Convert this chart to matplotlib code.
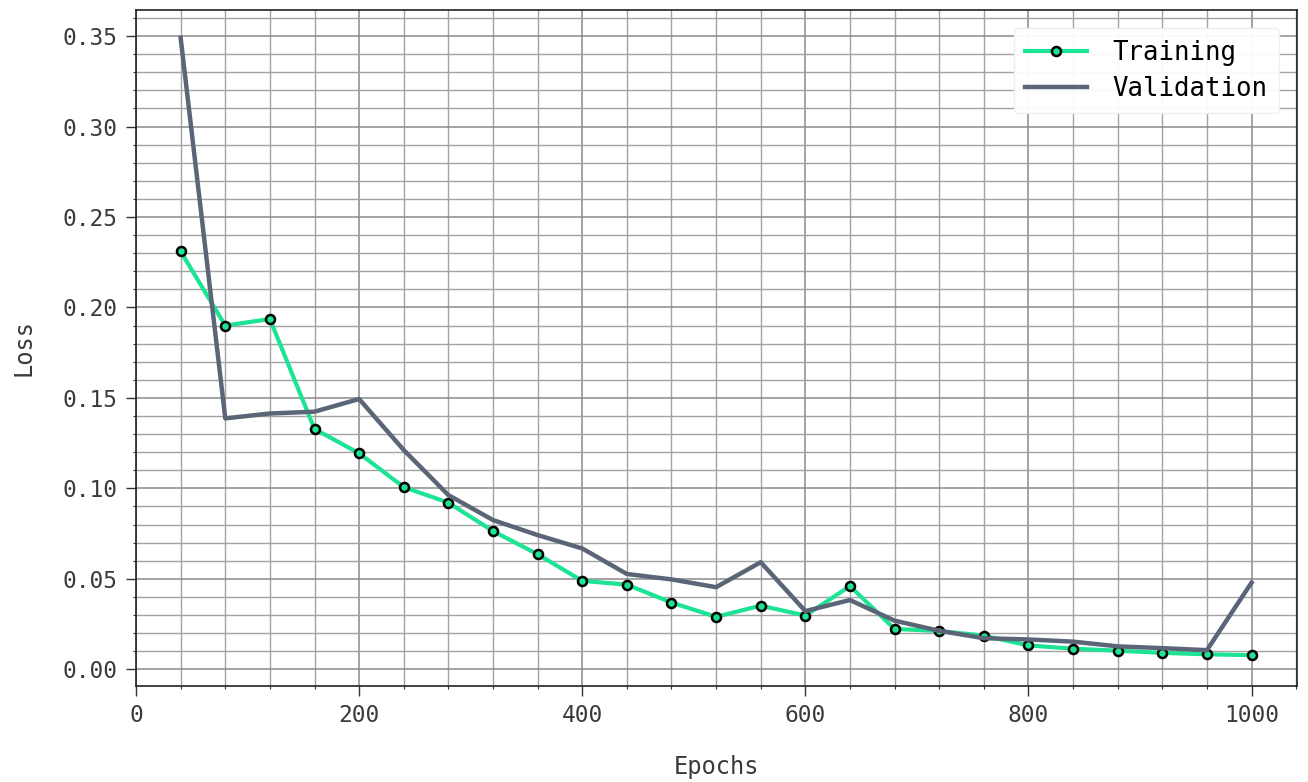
import matplotlib
matplotlib.use('Agg')
import matplotlib.pyplot as plt
from matplotlib.ticker import MultipleLocator, FormatStrFormatter

# epochs (every 40) and loss values
epochs = [40, 80, 120, 160, 200, 240, 280, 320, 360, 400, 440, 480, 520,
          560, 600, 640, 680, 720, 760, 800, 840, 880, 920, 960, 1000]
train_loss = [0.231, 0.190, 0.1936, 0.1328, 0.1194, 0.1007, 0.0921, 0.0764,
              0.0636, 0.0489, 0.0468, 0.0369, 0.0290, 0.0352, 0.0297, 0.0460,
              0.0223, 0.0212, 0.0186, 0.0132, 0.0114, 0.0103, 0.0091, 0.0083,
              0.0078]
val_loss = [0.349, 0.1387, 0.1414, 0.1424, 0.1494, 0.1212, 0.0963, 0.0825,
            0.0742, 0.0668, 0.0527, 0.0497, 0.0454, 0.0592, 0.0322, 0.0383,
            0.0269, 0.0213, 0.0172, 0.0165, 0.0153, 0.0127, 0.0117, 0.0106,
            0.0479]

plt.rcParams['font.family'] = ['DejaVu Sans Mono']

fig = plt.figure(figsize=(13.08, 7.82), dpi=100)
ax = fig.add_axes([0.104, 0.1228, 0.8878, 0.8644])

ax.plot(epochs, train_loss, color='#1de394', linewidth=3.0, marker='o',
        markersize=6.5, markerfacecolor='#1de394', markeredgecolor='black',
        markeredgewidth=1.8, label='Training', zorder=3)
ax.plot(epochs, val_loss, color='#5a6577', linewidth=3.2,
        label='Validation', zorder=3)

ax.set_xlim(0, 1041)
ax.set_ylim(-0.0092, 0.3644)

ax.xaxis.set_major_locator(MultipleLocator(200))
ax.xaxis.set_minor_locator(MultipleLocator(40))
ax.yaxis.set_major_locator(MultipleLocator(0.05))
ax.yaxis.set_minor_locator(MultipleLocator(0.01))
ax.yaxis.set_major_formatter(FormatStrFormatter('%.2f'))

ax.grid(which='major', color='#8a8a8a', linewidth=1.1)
ax.grid(which='minor', color='#a3a3a3', linewidth=1.0)
ax.set_axisbelow(True)

ax.tick_params(which='major', length=7, width=1, color='#333333',
               labelsize=16.5, labelcolor='#3a3a3a', pad=6)
ax.tick_params(which='minor', length=2.5, width=0.8, color='#333333')

for s in ax.spines.values():
    s.set_color('#222222')
    s.set_linewidth(1.2)

ax.set_xlabel('Epochs', fontsize=17, color='#3a3a3a', labelpad=20)
ax.set_ylabel('Loss', fontsize=17, color='#3a3a3a', labelpad=20)

leg = ax.legend(loc='upper right', fontsize=18.5, frameon=True, fancybox=True,
                framealpha=0.95, edgecolor='#eeeeee', handlelength=2.4,
                borderpad=0.45, labelspacing=0.4, handletextpad=1.0,
                borderaxespad=0.7)

fig.savefig('out.png', dpi=100)
